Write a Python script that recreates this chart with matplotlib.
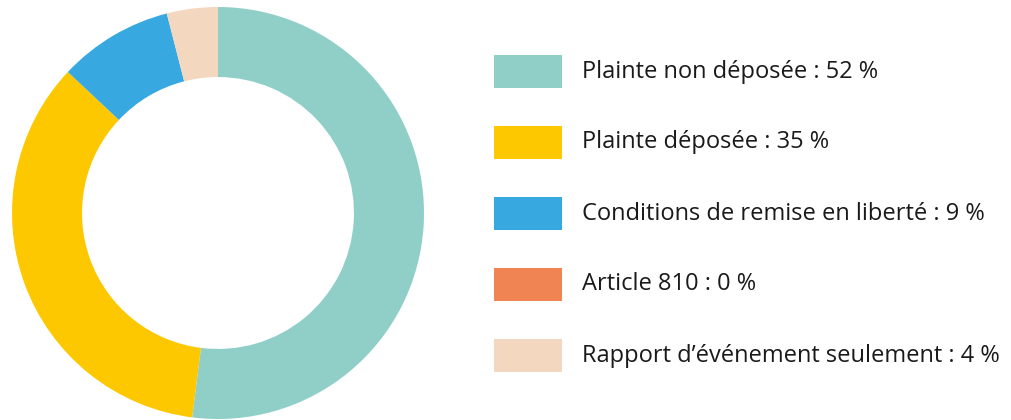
import matplotlib
matplotlib.use("Agg")
import matplotlib.pyplot as plt
from matplotlib.patches import Rectangle

categories = [
    "Plainte non déposée",
    "Plainte déposée",
    "Conditions de remise en liberté",
    "Article 810",
    "Rapport d\u2019événement seulement",
]
values = [52, 35, 9, 0, 4]
colors = ["#8FCFC8", "#FDC800", "#38A9E0", "#F08453", "#F3D7BF"]

W, H = 1012, 420
fig = plt.figure(figsize=(W / 100, H / 100), dpi=100)

# donut: centre (218, 213) px, outer radius 206 px
cx, cy, r = 218, 213, 206
ax = fig.add_axes([(cx - r) / W, (H - cy - r) / H, 2 * r / W, 2 * r / H])
ax.pie(values, colors=colors, startangle=90, counterclock=False,
       wedgeprops=dict(width=0.34, linewidth=0))
ax.set_xlim(-1, 1)
ax.set_ylim(-1, 1)
ax.set_aspect("equal")
ax.axis("off")

# legend drawn by hand in pixel positions
lax = fig.add_axes([0, 0, 1, 1])
lax.set_xlim(0, W)
lax.set_ylim(H, 0)
lax.axis("off")
for i, (cat, val, col) in enumerate(zip(categories, values, colors)):
    yc = 71 + i * 71
    lax.add_patch(Rectangle((494, yc - 16.5), 68, 33, color=col, linewidth=0))
    lax.text(582, yc + 0.5, f"{cat} : {val} %", va="center", ha="left",
             fontsize=17, family="Open Sans", color="#1a1a1a")

fig.savefig("out.png", dpi=100)
